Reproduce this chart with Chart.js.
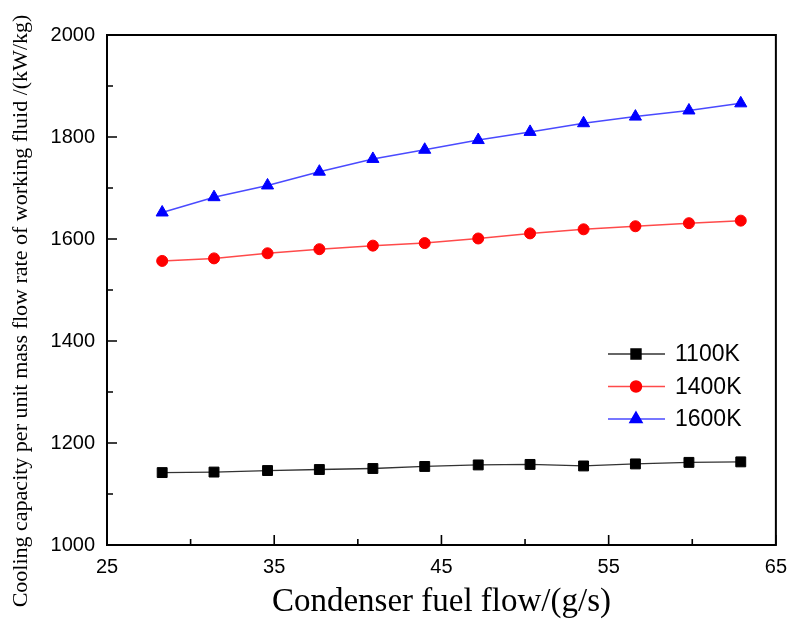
<!DOCTYPE html>
<html>
<head>
<meta charset="utf-8">
<script src="https://cdn.jsdelivr.net/npm/chart.js@4.4.0/dist/chart.umd.min.js"></script>
<style>
  html, body { margin: 0; padding: 0; background: #fff; }
</style>
</head>
<body>
<canvas id="chart" width="797" height="626"></canvas>
<script>
const fuelFlow = [28.3, 31.4, 34.6, 37.7, 40.9, 44.0, 47.2, 50.3, 53.5, 56.6, 59.8, 62.9];
const cool1100 = [1142, 1143, 1146, 1148, 1150, 1154, 1157, 1158, 1155, 1159, 1162, 1163];
const cool1400 = [1557, 1562, 1572, 1580, 1587, 1592, 1601, 1611, 1619, 1625, 1631, 1636];
const cool1600 = [1652, 1682, 1705, 1732, 1757, 1775, 1794, 1810, 1827, 1840, 1852, 1866];
const seriesNames = ['1100K', '1400K', '1600K'];
const xTicks = [25, 35, 45, 55, 65];
const xMinor = [30, 40, 50, 60];
const yTicks = [1000, 1200, 1400, 1600, 1800, 2000];
const yMinor = [1100, 1300, 1500, 1700, 1900];
const xTitle = 'Condenser fuel flow/(g/s)';
const yTitle = 'Cooling capacity per unit mass flow rate of working fluid /(kW/kg)';

const pts = vals => fuelFlow.map((x, i) => ({x: x, y: vals[i]}));

// box, inward ticks, titles and legend
const frame = {
    id: 'frame',
    beforeDatasetsDraw(chart) {
        const {ctx, chartArea: a, scales: {x, y}} = chart;
        ctx.save();
        ctx.strokeStyle = '#000';
        ctx.lineWidth = 2;
        ctx.strokeRect(a.left, a.top, a.right - a.left, a.bottom - a.top);
        ctx.lineWidth = 1.6;
        ctx.beginPath();
        xTicks.forEach(v => { const p = x.getPixelForValue(v); ctx.moveTo(p, a.bottom); ctx.lineTo(p, a.bottom - 10); });
        xMinor.forEach(v => { const p = x.getPixelForValue(v); ctx.moveTo(p, a.bottom); ctx.lineTo(p, a.bottom - 6); });
        yTicks.forEach(v => { const p = y.getPixelForValue(v); ctx.moveTo(a.left, p); ctx.lineTo(a.left + 10, p); });
        yMinor.forEach(v => { const p = y.getPixelForValue(v); ctx.moveTo(a.left, p); ctx.lineTo(a.left + 6, p); });
        ctx.stroke();
        ctx.restore();
    },
    afterDraw(chart) {
        const {ctx, chartArea: a} = chart;
        ctx.save();
        ctx.fillStyle = '#000';
        ctx.textAlign = 'center';
        ctx.textBaseline = 'middle';
        ctx.font = '33px "Liberation Serif", "Times New Roman", serif';
        ctx.fillText(xTitle, (a.left + a.right) / 2, 602);
        ctx.translate(21, 311);
        ctx.rotate(-Math.PI / 2);
        ctx.font = '22px "Liberation Serif", "Times New Roman", serif';
        ctx.fillText(yTitle, 0, 0);
        ctx.restore();

        // legend
        ctx.save();
        chart.data.datasets.forEach((ds, i) => {
            const ly = 354 + i * 32.5;
            ctx.strokeStyle = ds.borderColor;
            ctx.lineWidth = 1.5;
            ctx.beginPath();
            ctx.moveTo(608, ly);
            ctx.lineTo(665, ly);
            ctx.stroke();
            ctx.fillStyle = ds.pointBackgroundColor;
            ctx.strokeStyle = ds.pointBorderColor;
            Chart.helpers.drawPoint(ctx, {pointStyle: ds.pointStyle, radius: ds.pointRadius, rotation: 0, borderWidth: 1}, 636, ly);
            ctx.fillStyle = '#000';
            ctx.font = '23px "Liberation Sans", Arial, sans-serif';
            ctx.textAlign = 'left';
            ctx.textBaseline = 'middle';
            ctx.fillText(ds.label, 675, ly + 1);
        });
        ctx.restore();
    }
};

const tickFont = {family: '"Liberation Sans", Arial, sans-serif', size: 20};

new Chart(document.getElementById('chart'), {
    type: 'line',
    data: {
        datasets: [
            {label: seriesNames[0], data: pts(cool1100), borderColor: '#333333', borderWidth: 1.3,
             pointStyle: 'rect', pointRadius: 7, pointBackgroundColor: '#000000', pointBorderColor: '#000000', pointBorderWidth: 1},
            {label: seriesNames[1], data: pts(cool1400), borderColor: '#ff4a4a', borderWidth: 1.5,
             pointStyle: 'circle', pointRadius: 5.5, pointBackgroundColor: '#ff0000', pointBorderColor: '#ff0000', pointBorderWidth: 1},
            {label: seriesNames[2], data: pts(cool1600), borderColor: '#4a4aff', borderWidth: 1.5,
             pointStyle: 'triangle', pointRadius: 7, pointBackgroundColor: '#0000ff', pointBorderColor: '#0000ff', pointBorderWidth: 1}
        ]
    },
    options: {
        responsive: false,
        animation: false,
        layout: {padding: {top: 35, right: 13, left: 0, bottom: 0}},
        plugins: {legend: {display: false}, tooltip: {enabled: false}},
        elements: {line: {tension: 0}},
        scales: {
            x: {
                type: 'linear', min: 25, max: 65,
                afterBuildTicks: s => { s.ticks = xTicks.map(v => ({value: v})); },
                afterFit: s => { s.height = 81; },
                grid: {display: false, drawTicks: false},
                border: {display: false},
                ticks: {font: tickFont, color: '#000', padding: 10, maxRotation: 0, callback: v => String(v)}
            },
            y: {
                type: 'linear', min: 1000, max: 2000,
                afterBuildTicks: s => { s.ticks = yTicks.map(v => ({value: v})); },
                afterFit: s => { s.width = 107; },
                grid: {display: false, drawTicks: false},
                border: {display: false},
                ticks: {font: tickFont, color: '#000', padding: 12, callback: v => String(v)}
            }
        }
    },
    plugins: [frame]
});
</script>
</body>
</html>
